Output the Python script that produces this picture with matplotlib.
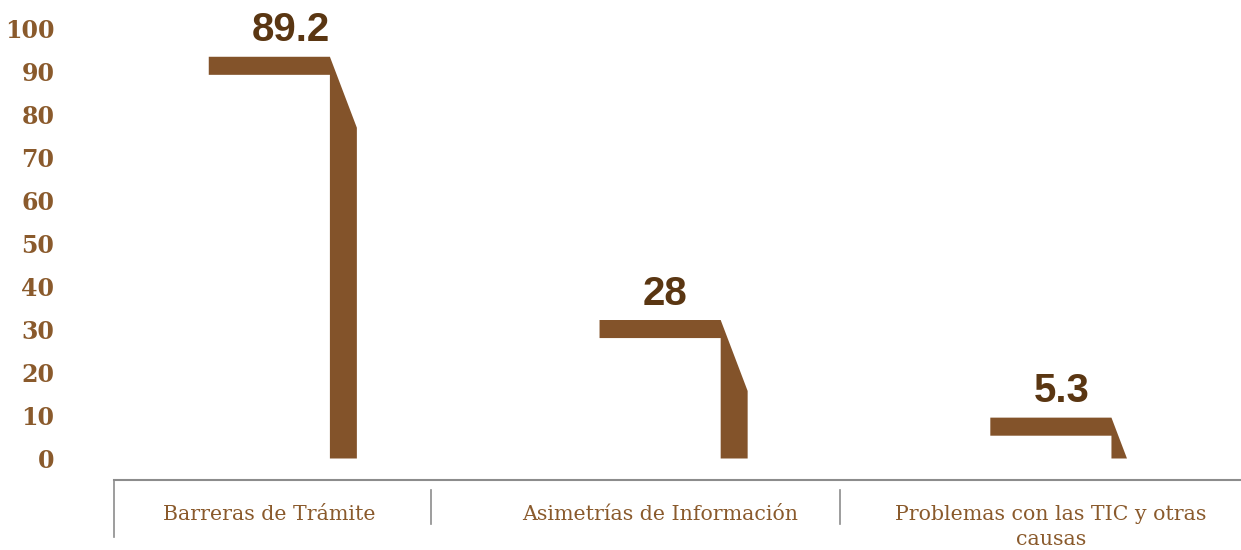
import matplotlib.pyplot as plt
from matplotlib.patches import Polygon

categories = ["Barreras de Trámite", "Asimetrías de Información",
              "Problemas con las TIC y otras\ncausas"]
values = [89.2, 28, 5.3]
yticks = list(range(0, 101, 10))

bar_color = "#83532A"
label_color = "#5A3612"
tick_color = "#8A5A2C"
line_color = "#8C8C8C"

W, H = 1241, 550
fig = plt.figure(figsize=(W / 100, H / 100), dpi=100)
ax = fig.add_axes([114 / W, 70 / H, 1 - 114 / W, 480 / H])

ax.set_xlim(-0.587, 2.297)
ax.set_ylim(-5, 106.6)

# shape of each "bar": horizontal arm to the left, slanted corner, thin stem
hw = 0.0345      # half stem width (x units)
arm = 0.31       # arm length (x units)
arm_h = 4.2      # arm thickness (y units)
slant = 16.5     # slant drop (y units)

for i, v in enumerate(values):
    top = v + arm_h
    left = i - hw - arm
    pts = [(left, v), (left, top), (i - hw, top)]
    if top - slant > 0:
        pts += [(i + hw, top - slant), (i + hw, 0)]
    else:
        pts += [(i - hw + 2 * hw * top / slant, 0)]
    pts += [(i - hw, 0), (i - hw, v)]
    ax.add_patch(Polygon(pts, closed=True, facecolor=bar_color,
                         edgecolor="none"))
    ax.annotate(f"{v:g}", xy=(i - 0.234, top), xytext=(0, 11),
                textcoords="offset points", ha="left", va="baseline",
                fontsize=29, fontweight="bold", color=label_color,
                family="Liberation Sans")

# axes styling
for s in ["top", "right", "left"]:
    ax.spines[s].set_visible(False)
ax.spines["bottom"].set_color(line_color)
ax.spines["bottom"].set_linewidth(1.5)
ax.set_xticks([])
ax.set_yticks(yticks)
ax.set_yticklabels([str(t) for t in yticks], fontsize=17, fontweight="bold",
                   color=tick_color, family="DejaVu Serif")
ax.tick_params(axis="y", length=0, pad=43)

# category separators
ax.plot([-0.587, -0.587], [0, -0.119], transform=ax.get_xaxis_transform(),
        color=line_color, lw=1.2, clip_on=False)
for sx in [0.224, 1.270]:
    ax.plot([sx, sx], [-0.021, -0.092], transform=ax.get_xaxis_transform(),
            color=line_color, lw=1.2, clip_on=False)

for i, c in enumerate(categories):
    ax.text(i - 0.19, -0.052, c, transform=ax.get_xaxis_transform(),
            ha="center", va="top", fontsize=14.8, color=tick_color,
            family="DejaVu Serif", linespacing=1.4)

fig.savefig("out.png", dpi=100)
